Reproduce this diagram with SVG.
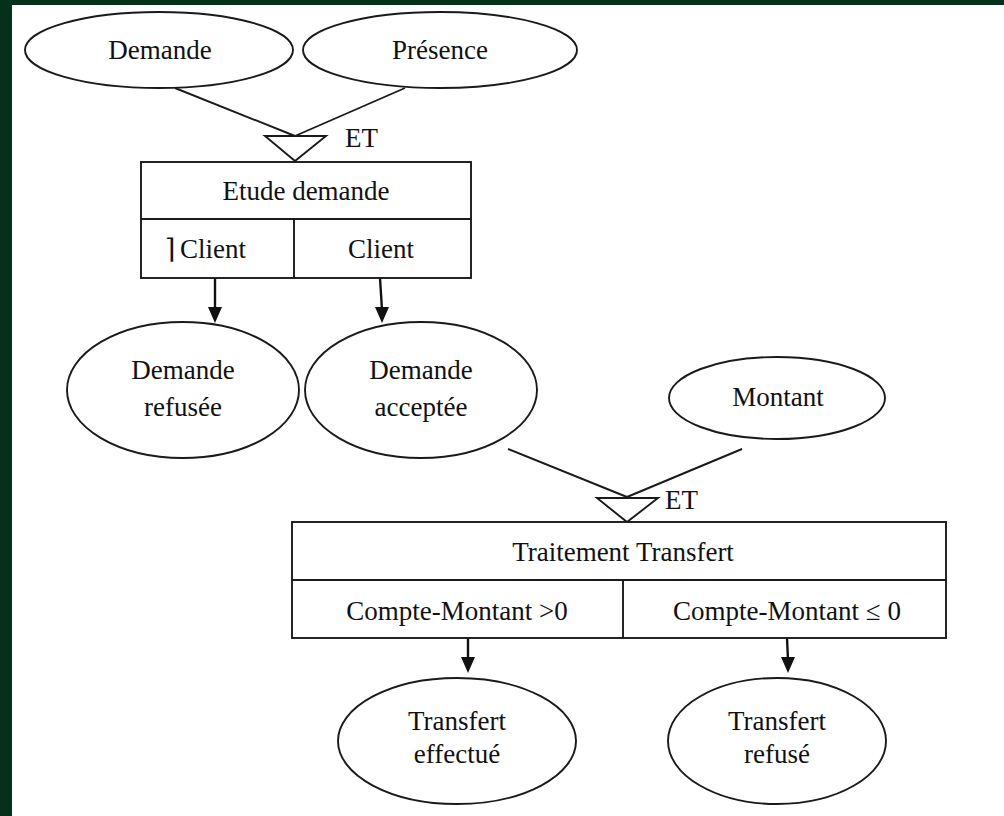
<svg xmlns="http://www.w3.org/2000/svg" width="1004" height="816" viewBox="0 0 1004 816">
<style>
.s{fill:#fff;stroke:#1a1a1a;stroke-width:1.9}
.l{fill:none;stroke:#1a1a1a;stroke-width:1.9}
.a{fill:none;stroke:#111;stroke-width:2.4}
.t{font-family:"Liberation Serif","Times New Roman",serif;font-size:27px;fill:#111;text-anchor:middle}
.ts{font-family:"Liberation Serif","DejaVu Serif",serif;font-size:27px;fill:#111}
</style>
<rect x="0" y="0" width="1004" height="816" fill="#05301a"/>
<rect x="12" y="5" width="992" height="811" fill="#fff"/>
<g id="connectors">
<line class="l" x1="175" y1="88" x2="295" y2="136"/>
<line class="l" x1="405" y1="88" x2="295" y2="136"/>
<line class="l" x1="508" y1="449" x2="627" y2="497"/>
<line class="l" x1="742" y1="449" x2="627" y2="497"/>
<line class="a" x1="215" y1="278" x2="215" y2="310"/>
<path d="M208,307 L222,307 L215,323 Z" fill="#111"/>
<line class="a" x1="380" y1="278" x2="382" y2="310"/>
<path d="M375,307 L389,307 L382,323 Z" fill="#111"/>
<line class="a" x1="468" y1="638" x2="468" y2="660"/>
<path d="M461,657 L475,657 L468,673 Z" fill="#111"/>
<line class="a" x1="787" y1="638" x2="788" y2="660"/>
<path d="M781,657 L795,657 L788,673 Z" fill="#111"/>
</g>
<g id="n-demande">
<ellipse class="s" cx="159" cy="50" rx="134" ry="38"/>
<text class="t" x="160" y="59">Demande</text>
</g>
<g id="n-presence">
<ellipse class="s" cx="440" cy="50" rx="137" ry="38"/>
<text class="t" x="440" y="59">Présence</text>
</g>
<g id="gate-1">
<polygon class="s" points="265,136 326,136 295,161"/>
<text class="ts" x="345" y="147">ET</text>
</g>
<g id="n-etude">
<rect class="s" x="141" y="162" width="330" height="116"/>
<line class="l" x1="141" y1="219" x2="471" y2="219"/>
<line class="l" x1="294" y1="219" x2="294" y2="278"/>
<text class="t" x="306" y="200">Etude demande</text>
<text class="ts" x="165" y="258">⌉</text>
<text class="ts" x="180" y="258">Client</text>
<text class="t" x="381" y="258">Client</text>
</g>
<g id="n-refusee">
<ellipse class="s" cx="183" cy="390" rx="116" ry="68"/>
<text class="t" x="183" y="379">Demande</text>
<text class="t" x="183" y="416">refusée</text>
</g>
<g id="n-acceptee">
<ellipse class="s" cx="421" cy="390" rx="116" ry="68"/>
<text class="t" x="421" y="379">Demande</text>
<text class="t" x="421" y="416">acceptée</text>
</g>
<g id="n-montant">
<ellipse class="s" cx="777" cy="398" rx="108" ry="41"/>
<text class="t" x="778" y="406">Montant</text>
</g>
<g id="gate-2">
<polygon class="s" points="597,498 658,498 627,522"/>
<text class="ts" x="665" y="509">ET</text>
</g>
<g id="n-traitement">
<rect class="s" x="292" y="522" width="654" height="116"/>
<line class="l" x1="292" y1="580" x2="946" y2="580"/>
<line class="l" x1="623" y1="580" x2="623" y2="638"/>
<text class="t" x="623" y="561">Traitement Transfert</text>
<text class="t" x="457" y="620">Compte-Montant &gt;0</text>
<text class="t" x="787" y="620">Compte-Montant ≤ 0</text>
</g>
<g id="n-effectue">
<ellipse class="s" cx="457" cy="741" rx="119" ry="63"/>
<text class="t" x="457" y="730">Transfert</text>
<text class="t" x="457" y="763">effectué</text>
</g>
<g id="n-trefuse">
<ellipse class="s" cx="777" cy="741" rx="109" ry="63"/>
<text class="t" x="777" y="730">Transfert</text>
<text class="t" x="777" y="763">refusé</text>
</g>
</svg>
